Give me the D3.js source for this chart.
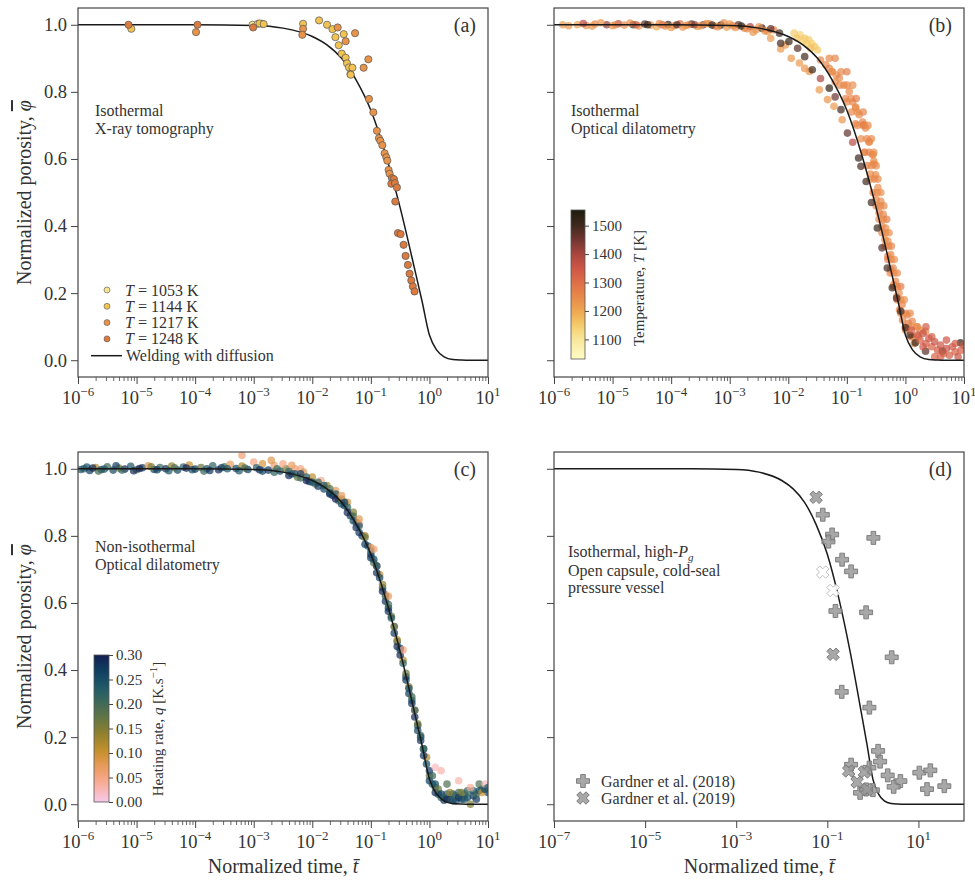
<!DOCTYPE html>
<html>
<head>
<meta charset="utf-8">
<script src="https://cdn.jsdelivr.net/npm/d3@7"></script>
<style>
  body { margin: 0; background: #fff; }
  svg text { font-family: "Liberation Serif", "DejaVu Serif", serif; fill: #333; }
</style>
</head>
<body>
<script>
// ---- data (x values are log10 of normalized time) ----

// model curve "Welding with diffusion"
var modelLogT = [-7, -4, -3, -2.5, -2, -1.75, -1.5, -1.25, -1, -0.75, -0.5, -0.25, -0.125, 0, 0.125, 0.25, 0.4, 0.55, 0.7, 2];
var modelPhi  = [1, 1, 0.998, 0.99, 0.965, 0.94, 0.9, 0.835, 0.745, 0.615, 0.455, 0.27, 0.175, 0.075, 0.03, 0.01, 0.002, 0.0005, 0, 0];

// (a) X-ray tomography, one list per temperature
var xrayTemps = [1053, 1144, 1217, 1248];
var xray1053 = [[-3.02, 1.0], [-2.93, 1.003], [-2.86, 1.003]];
var xray1144 = [[-5.09, 0.988], [-2.9, 1.004], [-2.83, 1.002], [-2.157, 1.003], [-1.884, 1.013], [-1.748, 1.0],
  [-1.656, 0.987], [-1.463, 0.972], [-1.605, 0.963], [-1.548, 0.939], [-1.497, 0.914], [-1.43, 0.902],
  [-1.407, 0.885], [-1.373, 0.873], [-1.315, 0.872], [-1.349, 0.853], [-1.344, 0.851]];
var xray1217 = [[-3.985, 0.978], [-2.157, 0.988], [-2.17, 0.97], [-1.566, 0.992], [-1.43, 0.951], [-1.27, 0.975],
  [-1.043, 0.897], [-1.123, 0.872], [-1.032, 0.779], [-0.958, 0.739], [-0.896, 0.684], [-0.862, 0.662],
  [-0.838, 0.654], [-0.804, 0.641], [-0.765, 0.617], [-0.736, 0.605], [-0.719, 0.595], [-0.697, 0.567], [-0.68, 0.556]];
var xray1248 = [[-5.138, 1.0], [-3.96, 1.0], [-3.01, 0.992], [-0.64, 0.543], [-0.606, 0.54], [-0.651, 0.526],
  [-0.589, 0.528], [-0.555, 0.515], [-0.583, 0.473], [-0.538, 0.379], [-0.492, 0.376], [-0.441, 0.344],
  [-0.407, 0.311], [-0.368, 0.284], [-0.339, 0.258], [-0.31, 0.238], [-0.283, 0.22], [-0.254, 0.205]];

// (b) isothermal optical dilatometry: [log10 t, phi, T]
var isoOptical = [
  [-5.75, 0.997, 1230], [-5.6, 1.0, 1210], [-5.45, 0.998, 1240], [-5.3, 1.002, 1260], [-5.1, 1.0, 1420], [-5.0, 0.997, 1230],
  [-4.9, 1.003, 1380], [-4.8, 0.999, 1250], [-4.65, 1.0, 1500], [-4.55, 0.996, 1220], [-4.45, 1.002, 1480], [-4.35, 0.999, 1240],
  [-4.25, 0.994, 1200], [-4.15, 1.0, 1350], [-4.05, 1.001, 1520], [-3.95, 0.997, 1260], [-3.85, 1.003, 1300], [-3.75, 0.998, 1230],
  [-3.65, 1.002, 1500], [-3.55, 0.995, 1210], [-3.45, 1.0, 1450], [-3.35, 1.003, 1250], [-3.25, 0.996, 1230], [-3.15, 0.999, 1530],
  [-3.05, 0.993, 1220], [-2.95, 0.997, 1270], [-2.85, 1.0, 1480], [-2.75, 0.99, 1240], [-2.65, 0.994, 1400], [-2.55, 0.985, 1230],
  [-2.45, 0.99, 1540], [-2.35, 0.98, 1220], [-2.25, 0.985, 1260], [-2.15, 0.975, 1500], [-5.2, 1.006, 1230], [-4.0, 0.992, 1220],
  [-3.1, 1.006, 1240], [-2.6, 0.978, 1230],
  [-5.85, 1.0, 1220], [-5.5, 1.004, 1380], [-5.35, 0.996, 1230], [-4.95, 1.0, 1250], [-4.7, 1.005, 1240], [-4.6, 1.0, 1340],
  [-4.4, 1.0, 1520], [-4.2, 1.004, 1250], [-4.1, 0.996, 1240], [-3.9, 1.0, 1480], [-3.8, 0.993, 1230], [-3.7, 1.0, 1260],
  [-3.6, 1.0, 1420], [-3.5, 0.997, 1240], [-3.4, 1.004, 1230], [-3.3, 0.999, 1500], [-3.2, 0.994, 1250], [-3.0, 1.002, 1230],
  [-2.9, 0.992, 1240], [-2.8, 0.996, 1520], [-2.7, 0.988, 1250], [-2.5, 0.994, 1240], [-2.4, 0.982, 1250], [-2.3, 0.988, 1470],
  // light scatter left of the curve
  [-2.3, 0.96, 1220], [-2.13, 0.928, 1220], [-1.95, 0.9, 1230], [-1.81, 0.886, 1220], [-1.64, 0.861, 1230],
  [-1.47, 0.806, 1220], [-1.33, 0.777, 1230], [-1.22, 0.757, 1220], [-1.08, 0.717, 1230], [-2.05, 0.94, 1230], [-1.72, 0.87, 1230],
  // yellow cluster
  [-1.9, 0.975, 1150], [-1.8, 0.97, 1140], [-1.72, 0.96, 1160], [-1.65, 0.955, 1150], [-1.6, 0.945, 1140],
  [-1.55, 0.935, 1160], [-1.5, 0.925, 1150], [-1.75, 0.95, 1140], [-1.62, 0.93, 1170], [-1.85, 0.96, 1160], [-1.68, 0.942, 1150],
  // main orange band
  [-1.36, 0.881, 1250], [-1.3, 0.87, 1260], [-1.25, 0.86, 1250], [-1.18, 0.85, 1240], [-1.13, 0.841, 1260], [-1.05, 0.82, 1250],
  [-0.96, 0.801, 1250], [-0.9, 0.77, 1260], [-0.85, 0.755, 1240], [-0.79, 0.732, 1250], [-0.73, 0.71, 1260], [-0.68, 0.692, 1250],
  [-0.62, 0.65, 1240], [-0.565, 0.613, 1250], [-0.54, 0.585, 1260], [-0.51, 0.553, 1250], [-0.47, 0.515, 1240], [-0.42, 0.474, 1250],
  [-0.38, 0.435, 1260], [-0.338, 0.394, 1250], [-0.3, 0.355, 1240], [-0.252, 0.315, 1250], [-0.21, 0.275, 1260], [-0.167, 0.235, 1250],
  [-0.11, 0.2, 1240], [-0.055, 0.166, 1250], [0.03, 0.135, 1260], [0.116, 0.116, 1250], [0.2, 0.1, 1270], [0.344, 0.086, 1260],
  [-1.45, 0.895, 1250], [-1.2, 0.83, 1240], [-1.0, 0.77, 1250], [-0.85, 0.705, 1260], [-0.7, 0.62, 1250], [-0.6, 0.555, 1240],
  [-0.5, 0.48, 1250], [-0.45, 0.44, 1260], [-0.4, 0.4, 1250], [-0.35, 0.36, 1240], [-0.3, 0.31, 1250], [-0.25, 0.27, 1260],
  [-0.2, 0.225, 1250], [-0.15, 0.19, 1240], [-0.1, 0.15, 1250], [-0.05, 0.12, 1260], [0.0, 0.09, 1250], [0.1, 0.07, 1250],
  [0.15, 0.05, 1240], [0.05, 0.11, 1270], [0.25, 0.09, 1260],
  [-1.0, 0.82, 1250], [-0.85, 0.752, 1250], [-0.71, 0.702, 1260], [-0.62, 0.652, 1250], [-0.55, 0.613, 1240], [-0.54, 0.593, 1250],
  [-1.3, 0.9, 1250], [-1.2, 0.9, 1260], [-1.25, 0.86, 1240], [-1.1, 0.86, 1250], [-1.0, 0.86, 1270],
  [-1.12, 0.82, 1250], [-0.9, 0.82, 1240], [-1.02, 0.78, 1260], [-0.93, 0.78, 1250], [-0.84, 0.78, 1270],
  [-0.92, 0.74, 1250], [-0.82, 0.74, 1240], [-0.72, 0.74, 1260], [-0.82, 0.7, 1250], [-0.72, 0.7, 1270], [-0.64, 0.7, 1250],
  [-0.76, 0.66, 1240], [-0.66, 0.66, 1260], [-0.58, 0.66, 1250], [-0.7, 0.62, 1250], [-0.62, 0.62, 1270], [-0.54, 0.62, 1240],
  [-0.66, 0.58, 1260], [-0.58, 0.58, 1250], [-0.5, 0.58, 1250], [-0.6, 0.54, 1240], [-0.53, 0.54, 1260], [-0.47, 0.54, 1250],
  [-0.55, 0.5, 1270], [-0.48, 0.5, 1250], [-0.42, 0.5, 1240], [-0.5, 0.46, 1250], [-0.43, 0.46, 1260], [-0.37, 0.46, 1250],
  [-0.45, 0.42, 1240], [-0.38, 0.42, 1250], [-0.32, 0.42, 1270], [-0.4, 0.38, 1250], [-0.34, 0.38, 1260], [-0.28, 0.38, 1240],
  [-0.35, 0.34, 1250], [-0.29, 0.34, 1250], [-0.24, 0.34, 1260], [-0.3, 0.3, 1270], [-0.24, 0.3, 1250], [-0.19, 0.3, 1240],
  [-0.26, 0.26, 1250], [-0.2, 0.26, 1260], [-0.14, 0.26, 1250], [-0.2, 0.22, 1240], [-0.14, 0.22, 1250], [-0.08, 0.22, 1270],
  [-0.14, 0.18, 1260], [-0.08, 0.18, 1250], [-0.02, 0.18, 1240], [-0.08, 0.14, 1250], [0.0, 0.14, 1260], [0.08, 0.14, 1250],
  [0.0, 0.1, 1270], [0.1, 0.1, 1250], [0.2, 0.1, 1240], [0.12, 0.07, 1260], [0.22, 0.07, 1250],
  // dark points along the curve
  [-2.13, 0.945, 1500], [-1.99, 0.95, 1520], [-1.84, 0.93, 1480], [-1.59, 0.866, 1500], [-1.3, 0.811, 1530], [-1.1, 0.747, 1500],
  [-0.99, 0.677, 1470], [-0.8, 0.603, 1510], [-0.76, 0.578, 1490], [-0.67, 0.533, 1500], [-0.48, 0.394, 1520], [-0.4, 0.335, 1480],
  [-0.31, 0.275, 1500], [-0.225, 0.216, 1510], [-0.08, 0.146, 1490], [0.003, 0.097, 1500], [0.17, 0.052, 1520], [0.344, 0.027, 1480],
  [0.63, 0.027, 1500], [0.94, 0.052, 1530], [-1.45, 0.84, 1400], [-0.9, 0.65, 1380], [-1.72, 0.905, 1500], [-1.2, 0.785, 1460],
  [-0.58, 0.47, 1500], [-0.15, 0.185, 1480], [0.08, 0.075, 1510],
  // red tail
  [0.1, 0.09, 1340], [0.2, 0.075, 1350], [0.25, 0.06, 1330], [0.3, 0.08, 1360], [0.35, 0.05, 1340], [0.4, 0.065, 1350],
  [0.45, 0.04, 1330], [0.5, 0.055, 1360], [0.55, 0.03, 1340], [0.6, 0.045, 1350], [0.65, 0.02, 1330], [0.7, 0.035, 1360],
  [0.75, 0.015, 1340], [0.8, 0.04, 1350], [0.85, 0.025, 1330], [0.9, 0.01, 1360], [0.95, 0.03, 1340], [1.0, 0.045, 1350],
  [0.5, 0.01, 1320], [0.35, 0.1, 1340], [0.3, 0.04, 1350], [0.45, 0.07, 1340], [0.6, 0.01, 1330], [0.7, 0.06, 1350], [0.85, 0.05, 1340]
];

// (c) non-isothermal optical dilatometry: [log10 t, phi, q]
var nonIsoOptical = [
  [-5.9, 1.0, 0.22], [-5.8, 0.995, 0.27], [-5.7, 1.004, 0.12], [-5.6, 0.998, 0.28], [-5.5, 1.006, 0.2], [-5.4, 0.996, 0.26],
  [-5.3, 1.002, 0.15], [-5.2, 0.999, 0.29], [-5.1, 1.007, 0.24], [-5.0, 0.997, 0.18], [-4.9, 1.003, 0.27], [-4.8, 1.009, 0.08],
  [-4.7, 0.998, 0.25], [-4.6, 1.004, 0.21], [-4.5, 1.0, 0.29], [-4.4, 1.008, 0.14], [-4.3, 0.996, 0.26], [-4.2, 1.005, 0.23],
  [-4.1, 1.011, 0.1], [-4.0, 0.999, 0.28], [-3.9, 1.004, 0.17], [-3.8, 1.0, 0.25], [-3.7, 1.009, 0.22], [-3.6, 0.997, 0.29],
  [-3.5, 1.006, 0.19], [-3.4, 1.013, 0.07], [-3.3, 1.001, 0.26], [-3.2, 1.008, 0.12], [-3.1, 0.998, 0.27], [-3.0, 1.02, 0.05],
  [-2.95, 1.003, 0.23], [-2.85, 1.015, 0.09], [-2.75, 0.996, 0.28], [-2.65, 1.01, 0.06], [-2.55, 0.993, 0.25], [-2.45, 1.0, 0.16],
  [-5.85, 1.005, 0.25], [-5.65, 0.993, 0.2], [-5.35, 1.009, 0.27], [-5.05, 0.994, 0.29], [-4.75, 1.006, 0.16], [-4.45, 0.994, 0.24],
  [-4.15, 1.002, 0.3], [-3.85, 0.993, 0.21], [-3.55, 1.003, 0.27], [-3.25, 0.994, 0.24], [-2.9, 0.997, 0.29], [-2.6, 1.0, 0.2],
  [-5.95, 0.998, 0.24], [-5.75, 1.002, 0.29], [-5.55, 0.999, 0.23], [-5.25, 0.996, 0.21], [-4.95, 1.001, 0.3], [-4.65, 0.997, 0.27],
  [-4.35, 1.003, 0.19], [-4.05, 0.997, 0.25], [-3.75, 0.995, 0.28], [-3.45, 1.0, 0.24], [-3.15, 1.002, 0.2], [-2.85, 0.993, 0.26],
  [-2.65, 0.99, 0.22], [-3.2, 1.04, 0.06], [-2.7, 1.025, 0.08], [-2.5, 1.015, 0.05], [-2.35, 1.01, 0.07], [-2.2, 1.0, 0.05],
  [-2.35, 0.985, 0.27], [-2.3, 1.0, 0.06], [-2.2, 0.973, 0.21], [-2.15, 0.99, 0.08], [-2.05, 0.962, 0.28], [-2.0, 0.975, 0.11],
  [-1.95, 0.955, 0.17], [-1.85, 0.965, 0.04], [-1.8, 0.94, 0.26], [-1.75, 0.95, 0.13], [-1.65, 0.92, 0.29], [-1.6, 0.935, 0.07],
  [-1.55, 0.905, 0.2], [-1.45, 0.89, 0.24], [-1.4, 0.9, 0.09], [-1.35, 0.86, 0.27], [-1.3, 0.87, 0.15], [-1.25, 0.84, 0.22],
  [-1.2, 0.835, 0.05], [-1.15, 0.8, 0.28], [-1.1, 0.8, 0.12], [-1.05, 0.77, 0.25], [-1.0, 0.765, 0.08], [-0.95, 0.72, 0.19],
  [-0.9, 0.71, 0.29], [-0.85, 0.685, 0.1], [-0.8, 0.645, 0.23], [-0.75, 0.625, 0.06], [-0.7, 0.585, 0.27], [-0.65, 0.56, 0.16],
  [-0.6, 0.53, 0.08], [-0.55, 0.485, 0.25], [-0.5, 0.46, 0.2], [-0.45, 0.43, 0.11], [-0.4, 0.38, 0.28], [-0.35, 0.35, 0.14],
  [-0.3, 0.31, 0.24], [-0.25, 0.28, 0.09], [-0.2, 0.235, 0.27], [-0.15, 0.205, 0.18], [-0.1, 0.165, 0.26], [-0.05, 0.14, 0.12],
  [-1.7, 0.925, 0.28], [-1.5, 0.895, 0.26], [-1.25, 0.825, 0.29], [-1.0, 0.745, 0.27], [-0.75, 0.605, 0.28], [-0.55, 0.47, 0.29],
  [-0.35, 0.33, 0.27], [-0.15, 0.19, 0.28],
  [-2.4, 0.992, 0.22], [-2.4, 0.98, 0.29], [-2.3, 0.985, 0.25], [-2.25, 0.975, 0.18], [-2.2, 0.985, 0.27], [-2.1, 0.975, 0.23],
  [-2.1, 0.965, 0.3], [-2.0, 0.96, 0.25], [-1.9, 0.96, 0.21], [-1.9, 0.948, 0.28], [-1.8, 0.95, 0.24], [-1.7, 0.94, 0.19],
  [-1.7, 0.928, 0.27], [-1.6, 0.925, 0.23], [-1.6, 0.91, 0.3], [-1.5, 0.91, 0.15], [-1.45, 0.9, 0.27], [-1.4, 0.885, 0.22],
  [-1.4, 0.87, 0.29], [-1.3, 0.858, 0.2], [-1.3, 0.845, 0.26], [-1.2, 0.83, 0.24], [-1.2, 0.81, 0.28], [-1.1, 0.795, 0.17],
  [-1.1, 0.775, 0.27], [-1.0, 0.755, 0.22], [-1.0, 0.735, 0.29], [-0.95, 0.73, 0.25], [-0.9, 0.71, 0.21], [-0.9, 0.69, 0.28],
  [-0.85, 0.675, 0.26], [-0.8, 0.655, 0.14], [-0.8, 0.635, 0.29], [-0.75, 0.62, 0.22], [-0.7, 0.595, 0.2], [-0.7, 0.575, 0.28],
  [-0.65, 0.555, 0.24], [-0.6, 0.53, 0.19], [-0.6, 0.51, 0.27], [-0.55, 0.49, 0.12], [-0.5, 0.465, 0.26], [-0.5, 0.445, 0.29],
  [-0.45, 0.42, 0.22], [-0.4, 0.39, 0.17], [-0.4, 0.37, 0.27], [-0.35, 0.345, 0.25], [-0.3, 0.32, 0.2], [-0.3, 0.3, 0.28],
  [-0.25, 0.28, 0.22], [-0.25, 0.26, 0.29], [-0.2, 0.24, 0.16], [-0.2, 0.22, 0.26], [-0.15, 0.2, 0.24], [-0.1, 0.165, 0.21],
  [-0.1, 0.145, 0.28], [-0.05, 0.12, 0.25], [0.0, 0.085, 0.17], [0.0, 0.07, 0.27], [0.05, 0.06, 0.24], [0.1, 0.05, 0.2],
  [0.1, 0.035, 0.29], [0.15, 0.03, 0.26], [0.2, 0.02, 0.22], [0.25, 0.012, 0.28], [0.3, 0.03, 0.24], [0.35, 0.015, 0.2],
  [0.4, 0.03, 0.27], [0.45, 0.01, 0.24], [0.5, 0.035, 0.2], [0.55, 0.015, 0.27], [0.6, 0.03, 0.18], [0.65, 0.02, 0.25],
  [0.75, 0.04, 0.23], [0.8, 0.015, 0.28], [0.9, 0.045, 0.22], [1.0, 0.035, 0.27],
  [-1.5, 0.92, 0.07], [-1.2, 0.85, 0.08], [-0.95, 0.76, 0.06], [-0.7, 0.62, 0.07], [-0.45, 0.46, 0.05],
  [0.0, 0.1, 0.28], [0.05, 0.085, 0.21], [0.1, 0.06, 0.25], [0.1, 0.11, 0.02], [0.15, 0.045, 0.17], [0.2, 0.03, 0.27],
  [0.2, 0.1, 0.03], [0.25, 0.02, 0.22], [0.3, 0.015, 0.29], [0.3, 0.06, 0.19], [0.35, 0.035, 0.14], [0.4, 0.01, 0.26],
  [0.45, 0.025, 0.21], [0.5, 0.02, 0.28], [0.5, 0.07, 0.03], [0.55, 0.035, 0.16], [0.6, 0.015, 0.24], [0.65, 0.04, 0.22],
  [0.7, 0.0, 0.15], [0.7, 0.05, 0.04], [0.75, 0.025, 0.27], [0.8, 0.03, 0.2], [0.85, 0.06, 0.19], [0.85, 0.04, 0.25],
  [0.9, 0.035, 0.1], [0.95, 0.045, 0.26], [0.95, 0.06, 0.02], [1.0, 0.05, 0.23]
];

// (d) high gas pressure experiments
var gardner2018 = [[-1.10, 0.863], [-0.895, 0.804], [-0.976, 0.783], [0.011, 0.794], [-0.676, 0.729], [-0.478, 0.694],
  [-0.822, 0.576], [-0.149, 0.572], [0.413, 0.438], [-0.684, 0.335], [-0.077, 0.288], [0.114, 0.159], [0.158, 0.127],
  [-0.478, 0.118], [-0.077, 0.109], [0.325, 0.086], [0.603, 0.069], [0.456, 0.052], [1.02, 0.094], [1.261, 0.101],
  [1.189, 0.045], [1.568, 0.054], [-0.281, 0.034], [0.0, 0.042], [-0.149, 0.044]];
var gardner2019 = [[-1.246, 0.915], [-0.873, 0.447], [-0.531, 0.099], [-0.186, 0.096], [-0.347, 0.066], [-0.127, 0.044]];
var gardner2019faint = [[-1.10, 0.692], [-0.873, 0.637]];

var yTicks = [0, 0.2, 0.4, 0.6, 0.8, 1.0];
var tempTicks = [1100, 1200, 1300, 1400, 1500];
var rateTicks = [0, 0.05, 0.1, 0.15, 0.2, 0.25, 0.3];

// ---- colour maps ----
var tempColor = d3.scaleLinear()
  .domain([1031, 1100, 1150, 1200, 1250, 1300, 1350, 1400, 1450, 1500, 1555])
  .range(["#fffcc4", "#f8e79c", "#f4cc68", "#eea650", "#e8894a", "#df6e48", "#ce5646", "#a9463f", "#723631", "#40291f", "#1e1d0e"]);
var rateColor = d3.scaleLinear()
  .domain([0, 0.025, 0.05, 0.075, 0.1, 0.125, 0.15, 0.175, 0.2, 0.225, 0.25, 0.275, 0.3])
  .range(["#f7c8ec", "#f8b7b3", "#f6a481", "#e69a58", "#c9922f", "#a5872a", "#807d34", "#5f7446", "#416a57", "#285f64", "#164d65", "#0f385e", "#141f52"]);
var xrayFill = { 1053: "#f6e38f", 1144: "#f1c353", 1217: "#e8934a", 1248: "#dc7b3f" };

// ---- layout ----
var W = 975, H = 881;
var pw = 410, ph = 369;
var svg = d3.select("body").append("svg").attr("width", W).attr("height", H);
var defs = svg.append("defs");

var line = function (x, y) {
  return d3.line().x(function (d) { return x(Math.pow(10, d[0])); }).y(function (d) { return y(d[1]); }).curve(d3.curveMonotoneX);
};
var modelData = modelLogT.map(function (v, i) { return [v, modelPhi[i]]; });

function supLabel(sel, base, exp, size) {
  sel.append("tspan").text(base);
  sel.append("tspan").attr("dy", -size * 0.42).attr("font-size", size * 0.7).text(exp);
}

function panel(ox, oy, opts) {
  var g = svg.append("g").attr("transform", "translate(" + ox + "," + oy + ")");
  var x = d3.scaleLog().domain(opts.xDomain).range([0, pw]);
  var y = d3.scaleLinear().domain([-0.05, 1.05]).range([ph, 0]);
  defs.append("clipPath").attr("id", "clip" + opts.name)
    .append("rect").attr("width", pw).attr("height", ph);

  // y ticks
  var ya = g.append("g").call(d3.axisLeft(y).tickValues(yTicks).tickSize(7).tickFormat(opts.yLabels ? d3.format(".1f") : ""));
  ya.select(".domain").remove();
  ya.selectAll("line").attr("stroke", "#444");
  ya.selectAll("text").attr("font-size", 18.5).attr("fill", "#333").attr("font-family", "Liberation Serif").attr("x", -11);

  // x ticks: major + minor
  var majors = opts.xMajors;
  var xa = g.append("g").attr("transform", "translate(0," + ph + ")")
    .call(d3.axisBottom(x).tickValues(majors).tickSize(7).tickFormat(""));
  xa.select(".domain").remove();
  xa.selectAll("line").attr("stroke", "#444");
  if (opts.minor) {
    var minors = x.ticks().filter(function (v) { return Math.abs(Math.log10(v) - Math.round(Math.log10(v))) > 1e-6; });
    var xm = g.append("g").attr("transform", "translate(0," + ph + ")")
      .call(d3.axisBottom(x).tickValues(minors).tickSize(4).tickFormat(""));
    xm.select(".domain").remove();
    xm.selectAll("line").attr("stroke", "#444").attr("stroke-width", 0.8);
  }
  majors.forEach(function (v) {
    var t = g.append("text").attr("x", x(v)).attr("y", ph + 27).attr("text-anchor", "middle").attr("font-size", 18.5);
    var e = Math.round(Math.log10(v));
    supLabel(t, "10", (e < 0 ? "\u2212" : "") + Math.abs(e), 18.5);
  });

  var plot = g.append("g").attr("clip-path", "url(#clip" + opts.name + ")");
  opts.draw(plot, x, y);

  g.append("rect").attr("width", pw).attr("height", ph).attr("fill", "none").attr("stroke", "#444").attr("stroke-width", 1.2);

  g.append("text").attr("x", pw - 12).attr("y", 24).attr("text-anchor", "end").attr("font-size", 20).text("(" + opts.name + ")");

  if (opts.yLabels) {
    var yt = g.append("text").attr("transform", "translate(" + (31 - ox) + "," + (ph / 2) + ") rotate(-90)")
      .attr("text-anchor", "middle").attr("font-size", 20).text("Normalized porosity, ");
    yt.append("tspan").attr("font-style", "italic").style("text-decoration", "overline").text("\u03c6");
  }
  if (opts.xTitle) {
    var xt = g.append("text").attr("x", pw / 2).attr("y", ph + 52).attr("text-anchor", "middle").attr("font-size", 20)
      .text("Normalized time, ");
    xt.append("tspan").attr("font-style", "italic").text("t\u0304");
  }
  return { g: g, x: x, y: y };
}

function note(g, x, y, lines) {
  lines.forEach(function (l, i) {
    g.append("text").attr("x", x).attr("y", y + i * 18).attr("font-size", 16).text(l);
  });
}

function colorbar(ox, oy, w, h, scale, ticks, fmt, id) {
  var g = svg.append("g").attr("transform", "translate(" + ox + "," + oy + ")");
  var dom = scale.domain();
  var lo = dom[0], hi = dom[dom.length - 1];
  var grad = defs.append("linearGradient").attr("id", id).attr("x1", 0).attr("x2", 0).attr("y1", 1).attr("y2", 0);
  d3.range(0, 1.0001, 0.05).forEach(function (f) {
    grad.append("stop").attr("offset", f).attr("stop-color", scale(lo + f * (hi - lo)));
  });
  g.append("rect").attr("width", w).attr("height", h).attr("fill", "url(#" + id + ")").attr("stroke", "#555").attr("stroke-width", 0.8);
  var s = d3.scaleLinear().domain([lo, hi]).range([h, 0]);
  var a = g.append("g").attr("transform", "translate(" + w + ",0)")
    .call(d3.axisRight(s).tickValues(ticks).tickSize(4).tickFormat(fmt));
  a.select(".domain").remove();
  a.selectAll("line").attr("stroke", "#444");
  a.selectAll("text").attr("font-size", 15).attr("fill", "#333").attr("font-family", "Liberation Serif").attr("x", 7);
  return g;
}

function dots(plot, x, y, data, r, fill, alpha, stroke) {
  plot.selectAll(null).data(data).enter().append("circle")
    .attr("cx", function (d) { return x(Math.pow(10, d[0])); })
    .attr("cy", function (d) { return y(d[1]); })
    .attr("r", r)
    .attr("fill", fill)
    .attr("fill-opacity", alpha)
    .attr("stroke", stroke || "none")
    .attr("stroke-width", 0.7);
}

function plusPath(s, a) {
  return "M" + (-a) + "," + (-s) + "H" + a + "V" + (-a) + "H" + s + "V" + a + "H" + a + "V" + s + "H" + (-a) + "V" + a + "H" + (-s) + "V" + (-a) + "H" + (-a) + "Z";
}

var majors6 = [1e-6, 1e-5, 1e-4, 1e-3, 1e-2, 1e-1, 1e0, 1e1];

// (a)
var pa = panel(78, 8, {
  name: "a", xDomain: [1e-6, 1e1], xMajors: majors6, minor: true, yLabels: true, xTitle: false,
  draw: function (plot, x, y) {
    plot.append("path").datum(modelData).attr("d", line(x, y)).attr("fill", "none").attr("stroke", "#1a1a1a").attr("stroke-width", 1.5);
    dots(plot, x, y, xray1053, 3.6, xrayFill[1053], 1, "#555");
    dots(plot, x, y, xray1144, 3.6, xrayFill[1144], 1, "#555");
    dots(plot, x, y, xray1217, 3.6, xrayFill[1217], 1, "#555");
    dots(plot, x, y, xray1248, 3.6, xrayFill[1248], 1, "#555");
  }
});
note(pa.g, 17, 108, ["Isothermal", "X-ray tomography"]);
xrayTemps.forEach(function (T, i) {
  var yy = 282 + i * 16.3;
  pa.g.append("circle").attr("cx", 29).attr("cy", yy).attr("r", 3).attr("fill", xrayFill[T]).attr("stroke", "#555").attr("stroke-width", 0.6);
  var t = pa.g.append("text").attr("x", 47).attr("y", yy + 5.5).attr("font-size", 16);
  t.append("tspan").attr("font-style", "italic").text("T");
  t.append("tspan").text(" = " + T + " K");
});
pa.g.append("line").attr("x1", 13).attr("x2", 44).attr("y1", 347.7).attr("y2", 347.7).attr("stroke", "#1a1a1a").attr("stroke-width", 1.5);
pa.g.append("text").attr("x", 48).attr("y", 353).attr("font-size", 16).text("Welding with diffusion");

// (b)
var pb = panel(554, 8, {
  name: "b", xDomain: [1e-6, 1e1], xMajors: majors6, minor: true, yLabels: false, xTitle: false,
  draw: function (plot, x, y) {
    plot.selectAll(null).data(isoOptical).enter().append("circle")
      .attr("cx", function (d) { return x(Math.pow(10, d[0])); })
      .attr("cy", function (d) { return y(d[1]); })
      .attr("r", 3.8)
      .attr("fill", function (d) { return tempColor(d[2]); })
      .attr("fill-opacity", 0.7);
    plot.append("path").datum(modelData).attr("d", line(x, y)).attr("fill", "none").attr("stroke", "#1a1a1a").attr("stroke-width", 1.5);
  }
});
note(pb.g, 17, 108, ["Isothermal", "Optical dilatometry"]);
colorbar(571, 210, 14, 149, tempColor, tempTicks, d3.format("d"), "gradT");
var tl = svg.append("text").attr("transform", "translate(644,288) rotate(-90)").attr("text-anchor", "middle").attr("font-size", 15)
  .text("Temperature, ");
tl.append("tspan").attr("font-style", "italic").text("T");
tl.append("tspan").text(" [K]");

// (c)
var pc = panel(78, 452, {
  name: "c", xDomain: [1e-6, 1e1], xMajors: majors6, minor: true, yLabels: true, xTitle: true,
  draw: function (plot, x, y) {
    plot.selectAll(null).data(nonIsoOptical).enter().append("circle")
      .attr("cx", function (d) { return x(Math.pow(10, d[0])); })
      .attr("cy", function (d) { return y(d[1]); })
      .attr("r", 3.8)
      .attr("fill", function (d) { return rateColor(d[2]); })
      .attr("fill-opacity", 0.7);
    plot.append("path").datum(modelData).attr("d", line(x, y)).attr("fill", "none").attr("stroke", "#1a1a1a").attr("stroke-width", 1.5);
  }
});
note(pc.g, 17, 100, ["Non-isothermal", "Optical dilatometry"]);
colorbar(94, 655, 15, 147, rateColor, rateTicks, d3.format(".2f"), "gradQ");
var ql = svg.append("text").attr("transform", "translate(163,729) rotate(-90)").attr("text-anchor", "middle").attr("font-size", 15)
  .text("Heating rate, ");
ql.append("tspan").attr("font-style", "italic").text("q");
ql.append("tspan").text(" [K.s");
ql.append("tspan").attr("dy", -6).attr("font-size", 11).text("\u22121");
ql.append("tspan").attr("dy", 6).text("]");

// (d)
var pd = panel(554, 452, {
  name: "d", xDomain: [1e-7, 1e2], xMajors: [1e-7, 1e-5, 1e-3, 1e-1, 1e1], minor: false, yLabels: false, xTitle: true,
  draw: function (plot, x, y) {
    plot.append("path").datum(modelData).attr("d", line(x, y)).attr("fill", "none").attr("stroke", "#1a1a1a").attr("stroke-width", 1.5);
    var mark = function (data, rot, fill, stroke, op) {
      plot.selectAll(null).data(data).enter().append("path")
        .attr("d", plusPath(6.5, 2.3))
        .attr("transform", function (d) { return "translate(" + x(Math.pow(10, d[0])) + "," + y(d[1]) + ") rotate(" + rot + ")"; })
        .attr("fill", fill).attr("fill-opacity", op).attr("stroke", stroke).attr("stroke-width", 0.9);
    };
    mark(gardner2018, 0, "#999", "#777", 0.85);
    mark(gardner2019, 45, "#999", "#777", 0.85);
    mark(gardner2019faint, 45, "#fff", "#bbb", 0.9);
  }
});
var dn = pd.g.append("text").attr("x", 14).attr("y", 105).attr("font-size", 16).text("Isothermal, high-");
dn.append("tspan").attr("font-style", "italic").text("P");
dn.append("tspan").attr("font-style", "italic").attr("dy", 4).attr("font-size", 11).text("g");
pd.g.append("text").attr("x", 14).attr("y", 124).attr("font-size", 16).text("Open capsule, cold-seal");
pd.g.append("text").attr("x", 14).attr("y", 141).attr("font-size", 16).text("pressure vessel");
[["Gardner et al. (2018)", 0], ["Gardner et al. (2019)", 45]].forEach(function (l, i) {
  var yy = 329 + i * 17;
  pd.g.append("path").attr("d", plusPath(6.5, 2.3)).attr("transform", "translate(29," + yy + ") rotate(" + l[1] + ")")
    .attr("fill", "#999").attr("fill-opacity", 0.85).attr("stroke", "#777").attr("stroke-width", 0.9);
  pd.g.append("text").attr("x", 47).attr("y", yy + 5.5).attr("font-size", 16).text(l[0]);
});
</script>
</body>
</html>
